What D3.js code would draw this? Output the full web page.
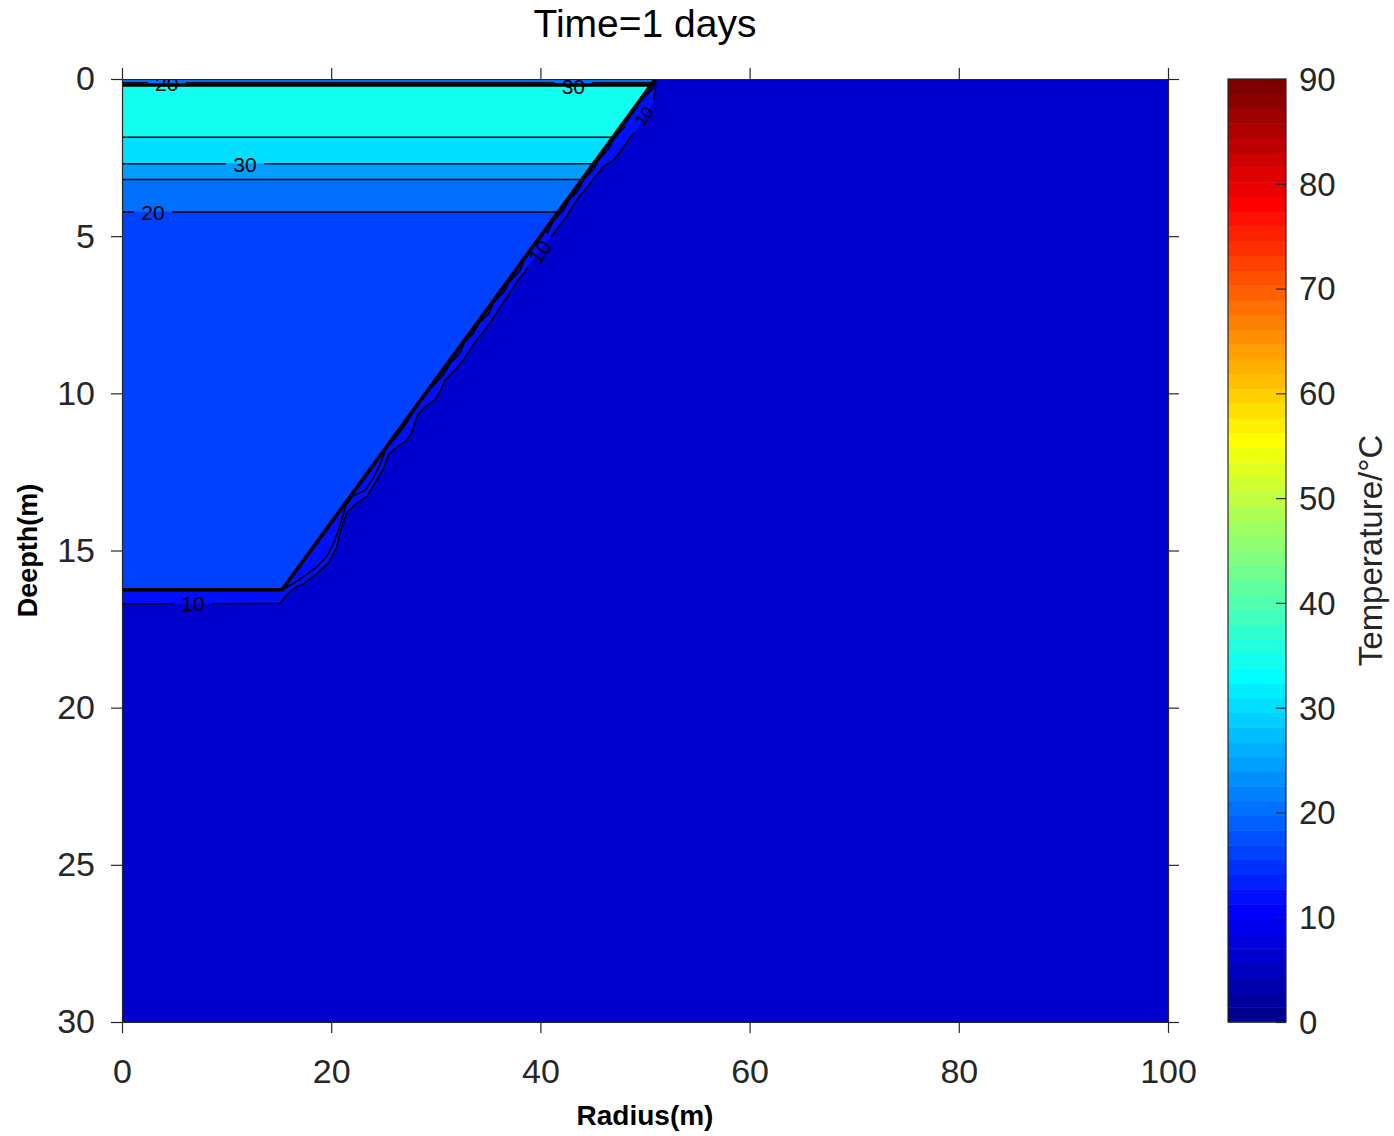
<!DOCTYPE html>
<html><head><meta charset="utf-8">
<script src="https://cdn.jsdelivr.net/npm/d3@7"></script>
<style>
body{margin:0;background:#fff}
text{font-family:"Liberation Sans",Arial,Helvetica,sans-serif;}
</style>
</head><body>
<svg id="chart" width="1394" height="1136"></svg>
<script>
// ---------------- data ----------------
const titleText = "Time=1 days";
const xLabelText = "Radius(m)";
const yLabelText = "Deepth(m)";
const cbLabelText = "Temperature/°C";
const xDomain = [0, 100];
const yDomain = [0, 30];
const cDomain = [0, 90];
const xTicks = [0, 20, 40, 60, 80, 100];
const yTicks = [0, 5, 10, 15, 20, 25, 30];
const cbTicks = [0, 10, 20, 30, 40, 50, 60, 70, 80, 90];
const nColors = 64;

// temperatures of the filled regions (°C)
const backgroundTemp = 6;
const nearFieldTemp = 12;
const surfaceTemp = 21;

// pit geometry (m)
const pitTopRadius = 51.0;
const pitBottomRadius = 15.3;
const pitDepth = 16.25;
const pitRimDepth = 0.19;

// stratified layers inside the pit
const layerTop    = [0.19, 1.85, 2.70, 3.20, 4.23];
const layerBottom = [1.85, 2.70, 3.20, 4.23, 16.25];
const layerTemp   = [35, 30, 25, 21, 16];

// thin horizontal isotherms inside the pit
const isoDepths = [1.85, 2.70, 3.20, 4.23];

// outer 10 °C isotherm around the pit [radius, depth]
const outerIso = [
  [0,16.70],[15.1,16.68],[15.9,16.36],[16.7,16.15],[17.33,16.07],[18.29,15.83],[19.72,15.41],
  [20.53,14.88],[21.0,14.24],[21.54,13.77],[22.44,13.50],[23.39,13.29],[24.19,12.86],
  [24.98,12.39],[25.46,11.96],[26.1,11.75],[27.06,11.54],[27.7,11.27],[28.17,10.74],
  [28.97,10.43],[29.92,10.21],[30.4,9.95],[30.88,9.58],[31.84,9.26],[32.63,8.94],
  [33.27,8.62],[33.91,8.30],[34.70,7.99],[35.34,7.67],[35.98,7.35],[36.62,7.03],
  [37.26,6.71],[37.89,6.39],[38.53,6.13],[39.01,5.86],[39.5,5.66],[40.4,5.28],[40.92,5.07],
  [41.40,4.86],[41.87,4.64],[42.51,4.38],[42.99,4.11],[43.47,3.85],[44.10,3.59],
  [44.74,3.32],[45.38,3.05],[46.01,2.79],[46.9,2.62],[47.6,2.34],[48.57,1.87],
  [49.36,1.55],[50.0,1.18],[50.8,0.75],[50.96,0.44],[51.0,0.20],[51.0,0.0]
];
// inner wavy isotherm hugging the pit wall [radius, depth]
const innerIso = [
  [15.3,16.25],[16.9,15.94],[18.45,15.57],[19.57,15.2],[20.36,14.67],[21.0,14.03],
  [21.41,13.55],[22.11,13.27],[23.23,13.08],[24.03,12.70],[24.73,12.23],[25.24,11.75],
  [25.94,11.49],[26.74,11.17],[27.37,10.85],[28.17,10.37],[28.95,10.05],[29.9,9.7],
  [30.75,9.4],[31.37,9.05],[32.34,8.7],[32.7,8.4],[33.56,8.1],[34.17,7.75],[35.08,7.45],
  [35.55,7.1],[36.57,6.75],[37.03,6.45],[38.05,6.1],[38.41,5.8],[39.27,5.5],[39.89,5.15],
  [40.74,4.85],[41.26,4.5],[42.17,4.2],[42.74,3.85],[43.6,3.55],[44.12,3.2],[45.14,2.85],
  [45.49,2.6],[46.57,2.2],[47.03,1.9],[48.1,1.5],[48.72,1.15],[49.64,0.8],[50.2,0.5],
  [50.74,0.3],[50.98,0.1]
];

// contour labels
const labelText  = ["20", "30", "30", "20", "10", "10", "10"];
const labelR     = [4.27, 43.15, 11.76, 2.96, 6.79, 39.96, 49.9];
const labelD     = [0.13, 0.245, 2.72, 4.24, 16.70, 5.5, 1.18];
const labelSlope = [false, false, false, false, false, true, true];

// ---------------- helpers ----------------
const jetU = k => (k < 1 || k > 47) ? 0 : (k <= 16 ? k / 16 : (k <= 31 ? 1 : (48 - k) / 16));
const jet = i => d3.rgb(jetU(i - 24) * 255, jetU(i - 8) * 255, jetU(i + 8) * 255);
const tempColor = t => jet(Math.min(nColors, Math.floor((t - cDomain[0]) / (cDomain[1] - cDomain[0]) * nColors) + 1));
const wallR = d => pitTopRadius - (pitTopRadius - pitBottomRadius) * d / pitDepth;

// ---------------- layout ----------------
const svg = d3.select("#chart");
const mL = 122, mR = 1168, mT = 79, mB = 1022;
const x = d3.scaleLinear(xDomain, [mL, mR]);
const y = d3.scaleLinear(yDomain, [mT, mB]);
const axisColor = "#262626";

const defs = svg.append("defs");
defs.append("clipPath").attr("id", "plotClip")
  .append("rect").attr("x", mL).attr("y", mT).attr("width", mR - mL).attr("height", mB - mT);

const line = d3.line().x(p => x(p[0])).y(p => y(p[1]));
const plot = svg.append("g").attr("clip-path", "url(#plotClip)");

// background
plot.append("rect").attr("x", x(xDomain[0])).attr("y", y(yDomain[0]))
  .attr("width", x(xDomain[1]) - x(xDomain[0])).attr("height", y(yDomain[1]) - y(yDomain[0]))
  .attr("fill", tempColor(backgroundTemp));

// near-field warm band (inside outer isotherm)
plot.append("path").attr("d", line(outerIso.concat([[0, 0]])) + "Z").attr("fill", tempColor(nearFieldTemp));

// surface strip
plot.append("path").attr("d", line([[0, 0], [pitTopRadius, 0], [wallR(pitRimDepth), pitRimDepth], [0, pitRimDepth]]) + "Z")
  .attr("fill", tempColor(surfaceTemp));

// layers
layerTop.forEach((t, i) => {
  const b = layerBottom[i];
  plot.append("path")
    .attr("d", line([[0, t], [wallR(t), t], [wallR(b), b], [0, b]]) + "Z")
    .attr("fill", tempColor(layerTemp[i]))
    .attr("stroke", tempColor(layerTemp[i])).attr("stroke-width", 0.6);
});

// mask for label gaps
const mask = defs.append("mask").attr("id", "labelMask").attr("maskUnits", "userSpaceOnUse")
  .attr("x", 0).attr("y", 0).attr("width", 1394).attr("height", 1136);
mask.append("rect").attr("x", 0).attr("y", 0).attr("width", 1394).attr("height", 1136).attr("fill", "#fff");
const slopeAngle = Math.atan2(y(pitDepth) - y(0), x(pitBottomRadius) - x(pitTopRadius)) * 180 / Math.PI - 180;
labelText.forEach((t, i) => {
  const px = x(labelR[i]), py = y(labelD[i]);
  const a = labelSlope[i] ? slopeAngle : 0;
  mask.append("rect").attr("x", -19).attr("y", -10).attr("width", 38).attr("height", 20)
    .attr("fill", "#000").attr("transform", `translate(${px},${py}) rotate(${a})`);
});

// thin isotherms
const thin = plot.append("g").attr("mask", "url(#labelMask)")
  .attr("fill", "none").attr("stroke", "#000").attr("stroke-width", 1.5).attr("stroke-linejoin", "round");
isoDepths.forEach(d => thin.append("path").attr("d", line([[0, d], [wallR(d), d]])));
thin.append("path").attr("d", line(outerIso));
thin.append("path").attr("d", line(innerIso));
thin.append("path").attr("d", line([[0, 0.11], [wallR(0.11), 0.11]])).attr("stroke-width", 1);

// thick (dense) isotherms at the pit boundary
const thick = plot.append("g").attr("fill", "none").attr("stroke", "#000").attr("stroke-width", 3.6).attr("stroke-linejoin", "round");
thick.append("path").attr("d", line([[0, pitRimDepth], [wallR(pitRimDepth), pitRimDepth]]));
thick.append("path").attr("d", line([[pitTopRadius, 0], [pitBottomRadius, pitDepth], [0, pitDepth]]));

// labels
const lab = plot.append("g");
labelText.forEach((t, i) => {
  const px = x(labelR[i]), py = y(labelD[i]);
  const a = labelSlope[i] ? slopeAngle : 0;
  lab.append("text").attr("transform", `translate(${px},${py}) rotate(${a})`)
    .attr("text-anchor", "middle").attr("dy", "0.36em").attr("font-size", i === 6 ? 17 : 21).attr("fill", "#000").text(t);
});

// ---------------- axes ----------------
const tickLen = 11;
function styleAxis(g) {
  g.selectAll(".domain").attr("stroke", axisColor).attr("stroke-width", 1.2);
  g.selectAll(".tick line").attr("stroke", axisColor).attr("stroke-width", 1.2);
  g.selectAll(".tick text").attr("fill", axisColor).attr("font-size", 34)
    .attr("font-family", '"Liberation Sans",Arial,Helvetica,sans-serif');
}
svg.append("g").attr("transform", `translate(0,${mB})`)
  .call(d3.axisBottom(x).tickValues(xTicks).tickSize(tickLen).tickSizeOuter(0).tickPadding(26))
  .call(styleAxis);
svg.append("g").attr("transform", `translate(0,${mT})`)
  .call(d3.axisTop(x).tickValues(xTicks).tickSize(tickLen).tickSizeOuter(0).tickFormat(""))
  .call(styleAxis);
svg.append("g").attr("transform", `translate(${mL},0)`)
  .call(d3.axisLeft(y).tickValues(yTicks).tickSize(tickLen).tickSizeOuter(0).tickPadding(16))
  .call(styleAxis);
svg.append("g").attr("transform", `translate(${mR},0)`)
  .call(d3.axisRight(y).tickValues(yTicks).tickSize(tickLen).tickSizeOuter(0).tickFormat(""))
  .call(styleAxis);

// titles
svg.append("text").attr("x", (mL + mR) / 2).attr("y", 37).attr("text-anchor", "middle")
  .attr("font-size", 39).attr("fill", "#000").text(titleText);
svg.append("text").attr("x", (mL + mR) / 2).attr("y", 1125).attr("text-anchor", "middle")
  .attr("font-size", 28).attr("font-weight", "bold").attr("fill", "#000").text(xLabelText);
svg.append("text").attr("transform", `translate(37,${(mT + mB) / 2}) rotate(-90)`).attr("text-anchor", "middle")
  .attr("font-size", 27).attr("font-weight", "bold").attr("fill", "#000").text(yLabelText);

// ---------------- colorbar ----------------
const cbLeft = 1228, cbRight = 1286;
const cbScale = d3.scaleLinear(cDomain, [mB, mT]);
const step = (cDomain[1] - cDomain[0]) / nColors;
const cb = svg.append("g");
d3.range(nColors).forEach(k => {
  const v0 = cDomain[0] + k * step, v1 = v0 + step;
  cb.append("rect").attr("x", cbLeft).attr("width", cbRight - cbLeft)
    .attr("y", cbScale(v1)).attr("height", cbScale(v0) - cbScale(v1) + 0.5)
    .attr("fill", jet(k + 1));
});
cb.append("rect").attr("x", cbLeft).attr("y", mT).attr("width", cbRight - cbLeft).attr("height", mB - mT)
  .attr("fill", "none").attr("stroke", axisColor).attr("stroke-width", 1.2);
const cbAxis = svg.append("g").attr("transform", `translate(${cbRight},0)`)
  .call(d3.axisLeft(cbScale).tickValues(cbTicks).tickSize(10).tickSizeOuter(0).tickFormat(""));
cbAxis.select(".domain").remove();
cbAxis.selectAll(".tick line").attr("stroke", axisColor).attr("stroke-width", 1.2);
cbTicks.forEach(v => {
  svg.append("text").attr("x", cbRight + 13).attr("y", cbScale(v)).attr("dy", "0.36em")
    .attr("font-size", 33).attr("fill", axisColor).text(v);
});
svg.append("text").attr("transform", `translate(1382,${(mT + mB) / 2}) rotate(-90)`).attr("text-anchor", "middle")
  .attr("font-size", 33).attr("fill", axisColor).text(cbLabelText);
</script>
</body></html>
